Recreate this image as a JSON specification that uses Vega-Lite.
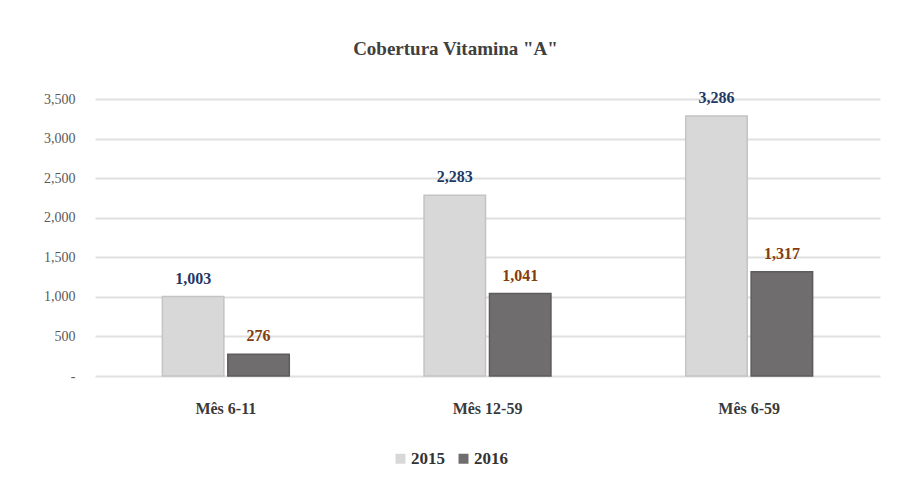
{
  "$schema": "https://vega.github.io/schema/vega-lite/v6.json",
  "autosize": {"type": "none"},
  "width": 785,
  "height": 277,
  "padding": {"left": 95, "top": 99, "right": 18, "bottom": 110},
  "background": "white",
  "title": {
    "text": "Cobertura Vitamina \"A\"",
    "font": "Liberation Serif",
    "fontSize": 19,
    "fontWeight": "bold",
    "color": "#404040",
    "anchor": "middle",
    "dx": -32,
    "offset": 31
  },
  "data": {
    "values": [
      {"grupo": "Mês 6-11", "ano": "2015", "valor": 1003},
      {"grupo": "Mês 6-11", "ano": "2016", "valor": 276},
      {"grupo": "Mês 12-59", "ano": "2015", "valor": 2283},
      {"grupo": "Mês 12-59", "ano": "2016", "valor": 1041},
      {"grupo": "Mês 6-59", "ano": "2015", "valor": 3286},
      {"grupo": "Mês 6-59", "ano": "2016", "valor": 1317}
    ]
  },
  "encoding": {
    "x": {
      "field": "grupo",
      "type": "nominal",
      "sort": ["Mês 6-11", "Mês 12-59", "Mês 6-59"],
      "scale": {"paddingInner": 0.515, "paddingOuter": 0.2575},
      "axis": {
        "title": null,
        "labelAngle": 0,
        "domain": false,
        "ticks": false,
        "labelFont": "Liberation Serif",
        "labelFontSize": 16,
        "labelFontWeight": "bold",
        "labelColor": "#3a3a3a",
        "labelPadding": 24
      }
    },
    "xOffset": {
      "field": "ano",
      "type": "nominal",
      "scale": {"paddingInner": 0.06}
    },
    "y": {
      "field": "valor",
      "type": "quantitative",
      "scale": {"domain": [0, 3500], "nice": false},
      "axis": {
        "title": null,
        "values": [0, 500, 1000, 1500, 2000, 2500, 3000, 3500],
        "labelOverlap": false,
        "domain": false,
        "ticks": false,
        "labelExpr": "datum.value == 0 ? '-' : format(datum.value, ',')",
        "labelFont": "Liberation Serif",
        "labelFontSize": 14,
        "labelColor": "#595959",
        "labelPadding": 20,
        "gridColor": "#e0e0e0",
        "gridWidth": 2
      }
    }
  },
  "layer": [
    {
      "mark": {"type": "bar", "strokeWidth": 1.5},
      "encoding": {
        "color": {
          "field": "ano",
          "type": "nominal",
          "scale": {"domain": ["2015", "2016"], "range": ["#d9d8d9", "#706d6e"]},
          "legend": {
            "orient": "none",
            "legendX": 297,
            "legendY": 351,
            "direction": "horizontal",
            "title": null,
            "symbolType": "square",
            "symbolSize": 100,
            "symbolStrokeWidth": 0,
            "labelFont": "Liberation Serif",
            "labelFontSize": 17,
            "labelFontWeight": "bold",
            "labelColor": "#333333",
            "labelOffset": 2,
            "columnPadding": 10
          }
        },
        "stroke": {
          "field": "ano",
          "type": "nominal",
          "scale": {"domain": ["2015", "2016"], "range": ["#c4c4c4", "#5e5b5c"]},
          "legend": null
        }
      }
    },
    {
      "mark": {
        "type": "text",
        "baseline": "bottom",
        "dy": -10,
        "font": "Liberation Serif",
        "fontSize": 16,
        "fontWeight": "bold"
      },
      "encoding": {
        "text": {"field": "valor", "type": "quantitative", "format": ","},
        "color": {
          "field": "ano",
          "type": "nominal",
          "scale": {"domain": ["2015", "2016"], "range": ["#1f3864", "#843c0c"]},
          "legend": null
        }
      }
    }
  ],
  "resolve": {"scale": {"color": "independent"}},
  "config": {"view": {"stroke": null}}
}
